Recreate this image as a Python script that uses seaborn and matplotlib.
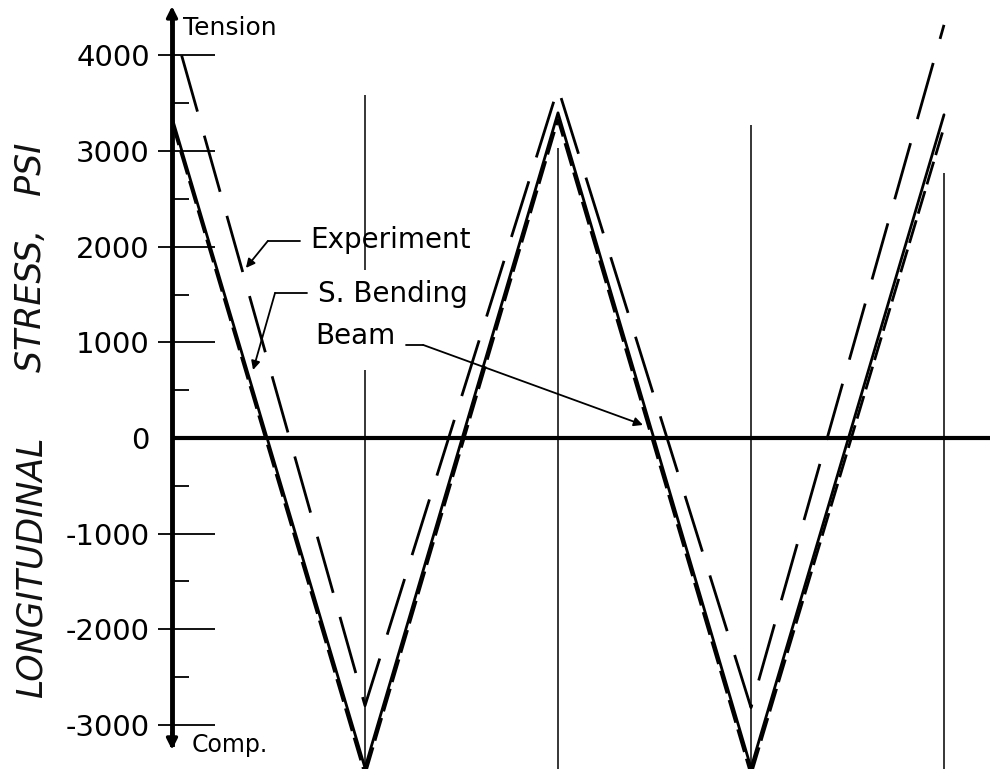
import numpy as np
import pandas as pd
import matplotlib
matplotlib.use("Agg")
import matplotlib.pyplot as plt
import seaborn as sns

# stations along the beam (peaks / valleys of the stress wave)
stations = [0, 1, 2, 3, 4]
exp_stations = [0.05, 1, 2, 3, 4]

experiment = [4000, -2800, 3660, -2820, 4320]   # long dash
bending = [3300, -3520, 3330, -3520, 3250]      # short dash
beam = [3350, -3450, 3400, -3450, 3380]         # solid

major_ticks = [4000, 3000, 2000, 1000, 0, -1000, -2000, -3000]
tick_labels = ["4000", "3000", "2000", "1000", "0", "-1000", "-2000", "-3000"]
minor_ticks = [3500, 2500, 1500, 500, -500, -1500, -2500]

grid_x = [1, 2, 3, 4]
grid_top = [3590, 3030, 3270, 2770]

df = pd.concat([
    pd.DataFrame({"pos": exp_stations, "stress": experiment, "series": "Experiment"}),
    pd.DataFrame({"pos": stations, "stress": bending, "series": "S. Bending"}),
    pd.DataFrame({"pos": stations, "stress": beam, "series": "Beam"}),
])

sns.set_style("white")
plt.rcParams["font.family"] = ["DejaVu Sans"]
plt.rcParams["text.color"] = "black"
plt.rcParams["ytick.color"] = "black"
plt.rcParams["ytick.labelcolor"] = "black"

fig = plt.figure(figsize=(9.9, 7.69), dpi=100)
ax = fig.add_axes([172 / 990, 0, 818 / 990, 1])
ax.set_xlim(0, 818 / 193)
ax.set_ylim(-3462, 4580)

# thin vertical station lines
for x, top in zip(grid_x, grid_top):
    if x == 1:
        ax.vlines(x, -3462, 711, color="k", lw=1.1)
        ax.vlines(x, 1757, top, color="k", lw=1.1)
    else:
        ax.vlines(x, -3462, top, color="k", lw=1.1)

ax.axhline(0, color="k", lw=3, zorder=3)

sns.lineplot(data=df, x="pos", y="stress", style="series",
             dashes={"Experiment": (21, 9), "S. Bending": (8.5, 2.5), "Beam": ""},
             color="black", lw=2.0, legend=False, estimator=None, sort=False,
             ax=ax, zorder=4)

# y axis with arrows both ends
for s in ["top", "right", "bottom"]:
    ax.spines[s].set_visible(False)
ax.spines["left"].set_linewidth(3.5)
ax.spines["left"].set_color("black")
ax.spines["left"].set_bounds(-3200, 4420)
ax.annotate("", xy=(0, 4545), xytext=(0, 4300),
            arrowprops=dict(arrowstyle="-|>", color="k", lw=2.5, mutation_scale=16))
ax.annotate("", xy=(0, -3290), xytext=(0, -3050),
            arrowprops=dict(arrowstyle="-|>", color="k", lw=2.5, mutation_scale=16))

ax.set_xticks([])
ax.set_yticks(major_ticks, tick_labels)
ax.tick_params(axis="y", length=0, pad=16, labelsize=21, labelcolor="black")
ax.set_xlabel("")
ax.set_ylabel("")
ax.hlines([t for t in major_ticks if t != 0], -0.07, 0.225, color="k", lw=1.3, clip_on=False)
ax.hlines(minor_ticks, 0, 0.09, color="k", lw=1.3)

ax.text(0.057, 4289, "Tension", fontsize=18, ha="left", va="center")
ax.text(0.104, -3211, "Comp.", fontsize=17, ha="left", va="center")

ax.text(-0.73, -1349, "LONGITUDINAL", fontsize=25, style="italic",
        rotation=90, ha="center", va="center", color="#111111")
ax.text(-0.73, 1893, "STRESS,   PSI", fontsize=25, style="italic",
        rotation=90, ha="center", va="center", color="#111111")

# labels with leaders
ax.text(0.715, 2071, "Experiment", fontsize=20, ha="left", va="center")
ax.text(0.756, 1506, "S. Bending", fontsize=20, ha="left", va="center")
ax.text(0.741, 1067, "Beam", fontsize=20, ha="left", va="center")

arrow = dict(arrowstyle="-|>", color="k", lw=1.3, mutation_scale=13, shrinkA=0, shrinkB=0)
ax.plot([0.663, 0.497], [2061, 2061], color="k", lw=1.3)
ax.annotate("", xy=(0.383, 1778), xytext=(0.497, 2061), arrowprops=arrow)
ax.plot([0.699, 0.534], [1517, 1517], color="k", lw=1.3)
ax.annotate("", xy=(0.420, 711), xytext=(0.534, 1517), arrowprops=arrow)
ax.plot([1.21, 1.301], [973, 973], color="k", lw=1.3)
ax.annotate("", xy=(2.440, 136), xytext=(1.301, 973), arrowprops=arrow)

fig.savefig("out.png", dpi=100)
